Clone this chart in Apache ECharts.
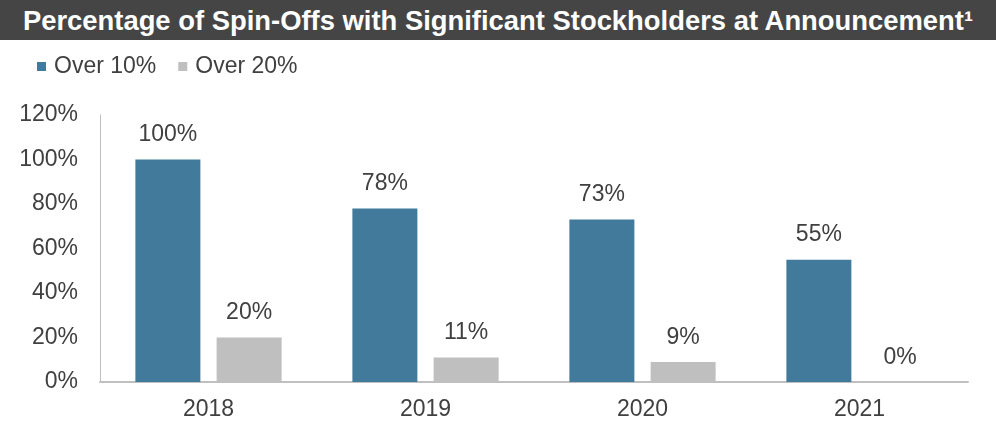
<!DOCTYPE html>
<html>
<head>
<meta charset="utf-8">
<script src="https://cdn.jsdelivr.net/npm/echarts@6/dist/echarts.min.js"></script>
<style>
  html, body { margin: 0; padding: 0; background: #fff; }
  #title { height: 40px; background: #454545; color: #fff; font: bold 27.4px "Liberation Sans", Arial, sans-serif; line-height: 41px; text-align: center; white-space: nowrap; }
  #chart { width: 996px; height: 385px; }
</style>
</head>
<body>
<div id="title">Percentage of Spin-Offs with Significant Stockholders at Announcement&sup1;</div>
<div id="chart"></div>
<script>
var years = ['2018', '2019', '2020', '2021'];
var over10 = [100, 78, 73, 55];
var over20 = [20, 11, 9, 0];

var textColor = '#404040';
var font = 'Liberation Sans, Arial, sans-serif';
var fs = 23;

var chart = echarts.init(document.getElementById('chart'));
chart.setOption({
  animation: false,
  legend: {
    left: 32,
    top: 10,
    itemWidth: 9,
    itemHeight: 9,
    itemGap: 22,
    icon: 'rect',
    textStyle: { fontSize: fs, color: textColor, fontFamily: font, padding: [0, 0, 0, 3] },
    data: ['Over 10%', 'Over 20%']
  },
  grid: { left: 100, right: 28, top: 75, bottom: 43 },
  xAxis: {
    type: 'category',
    data: years,
    axisLine: { lineStyle: { color: '#bfbfbf', width: 2 } },
    axisTick: { show: false },
    axisLabel: { fontSize: fs, color: textColor, fontFamily: font, margin: 16 }
  },
  yAxis: {
    type: 'value',
    min: 0,
    max: 120,
    interval: 20,
    axisLine: { show: true, lineStyle: { color: '#bfbfbf', width: 1 } },
    axisTick: { show: false },
    splitLine: { show: false },
    axisLabel: { fontSize: fs, color: textColor, fontFamily: font, margin: 22, formatter: '{value}%' }
  },
  series: [
    {
      name: 'Over 10%',
      type: 'bar',
      data: over10,
      barWidth: 65,
      barGap: '25%',
      itemStyle: { color: '#417a9a' },
      label: { show: true, position: 'top', distance: 13, formatter: '{c}%', fontSize: fs, color: textColor, fontFamily: font }
    },
    {
      name: 'Over 20%',
      type: 'bar',
      data: over20,
      barWidth: 65,
      itemStyle: { color: '#bfbfbf' },
      label: { show: true, position: 'top', distance: 13, formatter: '{c}%', fontSize: fs, color: textColor, fontFamily: font }
    }
  ]
});
</script>
</body>
</html>
